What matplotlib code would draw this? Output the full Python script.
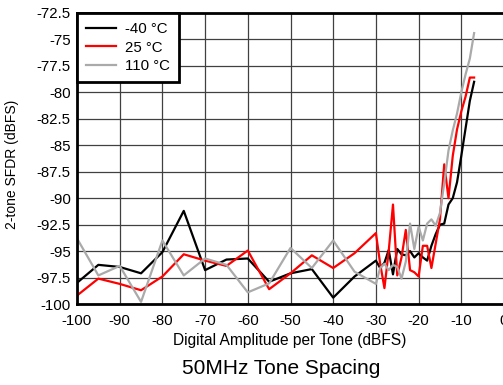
import matplotlib
matplotlib.use("Agg")
import matplotlib.pyplot as plt
import numpy as np

plt.rcParams['font.family'] = ['Liberation Sans', 'DejaVu Sans']
plt.rcParams['axes.unicode_minus'] = False

# x positions: coarse 5 dB steps, then 1 dB steps near full scale
x_coarse = [-100, -95, -90, -85, -80, -75, -70, -65, -60, -55, -50, -45, -40, -35]
x_fine = [-30, -29, -28, -27, -26, -25, -24, -23, -22, -21, -20, -19, -18,
          -17, -16, -15, -14, -13, -12, -11, -10, -9, -8, -7]
amplitude = x_coarse + x_fine

sfdr_m40 = [-98.0, -96.3, -96.5, -97.1, -95.1, -91.2, -96.8, -95.8, -95.7, -97.9,
            -97.1, -96.7, -99.4, -97.4,
            -95.9, -96.6, -96.1, -94.9, -97.2, -94.8, -95.3, -95.4, -95.0, -95.6,
            -95.2, -95.6, -95.9, -94.5, -93.4, -92.5, -92.4, -90.6, -90.0, -88.5,
            -86.0, -83.4, -80.8, -79.0]
sfdr_25 = [-99.2, -97.6, -98.1, -98.7, -97.4, -95.3, -95.9, -96.4, -94.95, -98.6,
           -97.1, -95.4, -96.6, -95.2,
           -93.3, -96.2, -98.5, -95.0, -90.6, -97.3, -95.6, -93.0, -96.8, -97.0,
           -97.4, -94.5, -94.5, -96.6, -94.3, -92.0, -86.8, -90.0, -86.0, -83.5,
           -81.8, -80.4, -78.6, -78.6]
sfdr_110 = [-93.8, -97.3, -96.4, -99.8, -94.0, -97.3, -95.7, -96.3, -98.9, -98.05,
            -94.7, -96.6, -94.0, -96.95,
            -98.1, -96.6, -96.2, -96.8, -96.3, -96.5, -97.6, -96.0, -92.4, -94.8,
            -92.7, -94.0, -92.4, -92.0, -92.6, -91.4, -88.6, -85.5, -83.6, -82.0,
            -80.0, -78.3, -76.8, -74.4]

labels = ['-40 °C', '25 °C', '110 °C']
colors = ['#000000', '#ff0000', '#aaaaaa']

x_ticks = np.arange(-100, 1, 10)
y_ticks = np.arange(-100, -72.4, 2.5)

fig = plt.figure(figsize=(5.03, 3.85), dpi=100)
ax = fig.add_axes([77 / 503, 1 - 304 / 385, 427 / 503, 291 / 385])

for y, lab, c in zip([sfdr_m40, sfdr_25, sfdr_110], labels, colors):
    ax.plot(amplitude, y, color=c, lw=1.6, label=lab)

ax.set_xlim(-100, 0)
ax.set_ylim(-100, -72.5)
ax.set_xticks(x_ticks)
ax.set_yticks(y_ticks)
ax.set_yticklabels(['%g' % v for v in y_ticks])
ax.grid(True, color='#404040', lw=0.9)
ax.set_axisbelow(True)
ax.tick_params(length=0, labelsize=10.8)
ax.tick_params(axis='x', pad=7.5)
ax.tick_params(axis='y', pad=4.5)
for s in ax.spines.values():
    s.set_linewidth(2)

ax.set_xlabel('Digital Amplitude per Tone (dBFS)', fontsize=11.2)
ax.xaxis.set_label_coords(0.498, -0.098)
ax.set_ylabel('2-tone SFDR (dBFS)', fontsize=10)
ax.yaxis.set_label_coords(-0.135, 0.48)

leg = ax.legend(loc='upper left', fontsize=10.8, frameon=True, fancybox=False,
                borderaxespad=0, handlelength=2.0, labelspacing=0.3,
                handletextpad=0.6, borderpad=0.6)
leg.get_frame().set_edgecolor('black')
leg.get_frame().set_linewidth(2)
leg.get_frame().set_alpha(1)

fig.text(281 / 503, 1 - 368 / 385, '50MHz Tone Spacing', ha='center', va='center',
         fontsize=15)

fig.savefig('out.png', dpi=100)
